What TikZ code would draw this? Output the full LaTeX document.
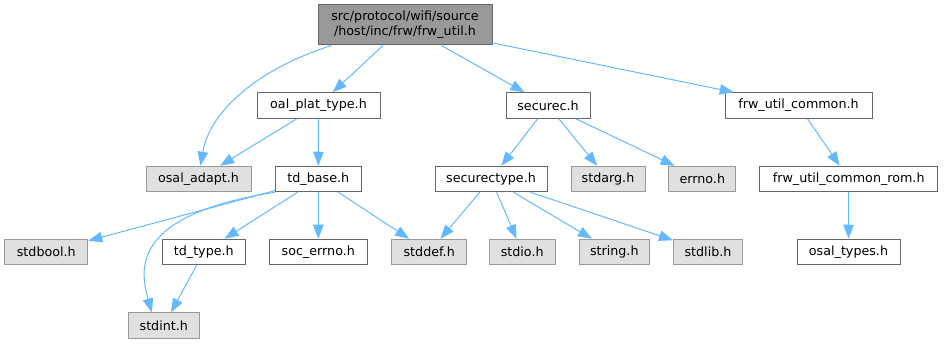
\documentclass[tikz,border=0pt]{standalone}
\usepackage{fontspec}
\setmainfont{DejaVu Sans}
\usetikzlibrary{arrows.meta}

\definecolor{edgeblue}{HTML}{63B8FF}
\definecolor{rootfill}{HTML}{999999}
\definecolor{boxdraw}{HTML}{666666}
\definecolor{sysfill}{HTML}{E0E0E0}
\definecolor{sysdraw}{HTML}{999999}

\begin{document}
\begin{tikzpicture}[
  x=1pt, y=-1pt,
  font=\fontsize{12.7}{15}\selectfont,
  >={Triangle[length=14pt, width=10.5pt]},
  hdr/.style={draw=boxdraw, line width=1pt, fill=white, minimum height=25.5pt, inner sep=0pt, align=center},
  rootbox/.style={hdr, fill=rootfill, minimum height=40pt},
  sysbox/.style={hdr, draw=sysdraw, fill=sysfill},
  dep/.style={->, draw=edgeblue, line width=1pt},
]
\useasboundingbox (0,0) rectangle (950,344);

% ---- included file ----
\node[rootbox, minimum width=174pt] (root) at (405,25) {src/protocol/wifi/source\\/host/inc/frw/frw\_util.h};

% ---- first level ----
\node[hdr, minimum width=123pt] (oal) at (318.5,105.5) {oal\_plat\_type.h};
\node[hdr, minimum width=84pt] (sec) at (548,105.5) {securec.h};
\node[hdr, minimum width=147pt] (frwc) at (798.5,105.5) {frw\_util\_common.h};

% ---- second level ----
\node[sysbox, minimum width=105pt] (osal) at (198.5,179) {osal\_adapt.h};
\node[hdr, minimum width=86pt] (tdb) at (318.3,179) {td\_base.h};
\node[hdr, minimum width=112pt] (sect) at (491,179) {securectype.h};
\node[sysbox, minimum width=74pt] (sarg) at (608,179) {stdarg.h};
\node[sysbox, minimum width=67pt] (errn) at (702.3,179) {errno.h};
\node[hdr, minimum width=178pt] (rom) at (848.7,179) {frw\_util\_common\_rom.h};

% ---- third level ----
\node[sysbox, minimum width=83pt] (sbool) at (46.3,252) {stdbool.h};
\node[hdr, minimum width=83pt] (tdt) at (203.8,252) {td\_type.h};
\node[hdr, minimum width=98pt] (soce) at (318.3,252) {soc\_errno.h};
\node[sysbox, minimum width=75pt] (sdef) at (429.2,252) {stddef.h};
\node[sysbox, minimum width=66pt] (sio) at (522.2,252) {stdio.h};
\node[sysbox, minimum width=70pt] (sstr) at (614.3,252) {string.h};
\node[sysbox, minimum width=69pt] (slib) at (708,252) {stdlib.h};
\node[hdr, minimum width=103pt] (otyp) at (848.5,252) {osal\_types.h};

% ---- fourth level ----
\node[sysbox, minimum width=71pt] (sint) at (163.8,325.7) {stdint.h};

% ---- includes of the root ----
\draw[dep] ([xshift=14pt]root.south west) .. controls (260,68) and (210,110) .. ([xshift=2pt]osal.north);
\draw[dep] (root) -- (oal);
\draw[dep] (root) -- (sec);
\draw[dep] (root) -- (frwc);

% ---- first level includes ----
\draw[dep] (oal) -- (osal);
\draw[dep] (oal) -- (tdb);
\draw[dep] (sec) -- (sect);
\draw[dep] (sec) -- (sarg);
\draw[dep] (sec) -- (errn);
\draw[dep] (frwc) -- (rom);

% ---- second level includes ----
\draw[dep] (tdb) -- (sbool);
\draw[dep] (tdb.south west) .. controls (130,215) and (140,270) .. ([xshift=-12pt]sint.north);
\draw[dep] (tdb) -- (tdt);
\draw[dep] (tdb) -- (soce);
\draw[dep] (tdb) -- (sdef);
\draw[dep] (sect) -- (sdef);
\draw[dep] (sect) -- (sio);
\draw[dep] (sect) -- (sstr);
\draw[dep] (sect) -- (slib);
\draw[dep] (rom) -- (otyp);

% ---- third level includes ----
\draw[dep] (tdt) -- (sint);

\end{tikzpicture}
\end{document}
